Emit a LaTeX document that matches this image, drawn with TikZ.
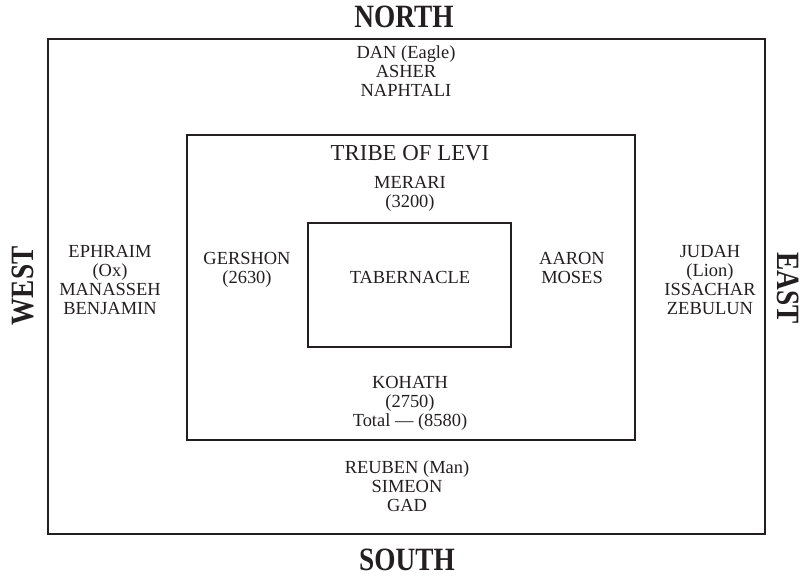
\documentclass[tikz,border=0pt]{standalone}
\usepackage{fontspec}
\setmainfont{Liberation Serif}
\newfontfamily\dirfont[FakeStretch=0.84]{Liberation Serif}
\usepackage{xcolor}
\usepackage{tikz}
\usetikzlibrary{positioning}
\definecolor{inkdark}{HTML}{231F20}

\begin{document}
\begin{tikzpicture}[
    x=0.02cm, y=-0.02cm,
    wall/.style={draw=inkdark, line width=1.4pt},
    tribe/.style={align=center, inner sep=0pt, text=inkdark, font=\fontsize{10.5}{10.8}\selectfont},
    levi/.style={inner sep=0pt, text=inkdark, font=\fontsize{13}{15}\selectfont},
    compass/.style={inner sep=0pt, text=inkdark, font=\dirfont\bfseries\fontsize{18.5}{20}\selectfont},
]
\useasboundingbox (0,0) rectangle (804,577);

% Camp, Levites and tabernacle
\draw[wall] (48,39) rectangle (765,534);
\draw[wall] (187,135) rectangle (635,440);
\draw[wall] (308,223) rectangle (511,347);

% Compass points
\node[compass] (north) at (404,17) {NORTH};
\node[compass] (south) at (407,560) {SOUTH};
\node[compass, rotate=90] (west) at (23,286) {WEST};
\node[compass, rotate=-90] (east) at (788,288) {EAST};

% Twelve tribes
\node[tribe] (dan) at (406,71) {DAN (Eagle)\\ASHER\\NAPHTALI};
\node[tribe] (ephraim) at (110,280) {EPHRAIM\\(Ox)\\MANASSEH\\BENJAMIN};
\node[tribe] (judah) at (710,280) {JUDAH\\(Lion)\\ISSACHAR\\ZEBULUN};
\node[tribe] (reuben) at (407,486) {REUBEN (Man)\\SIMEON\\GAD};

% Tribe of Levi
\node[levi] (levi) at (410,153) {TRIBE OF LEVI};
\node[tribe] (merari) at (410,194) {MERARI\\(3200)};
\node[tribe] (gershon) at (247,270) {GERSHON\\(2630)};
\node[tribe] (aaron) at (572,268) {AARON\\MOSES};
\node[tribe] (kohath) at (410,403) {KOHATH\\(2750)\\Total --- (8580)};

\node[tribe] (tabernacle) at (410,277) {TABERNACLE};

\end{tikzpicture}
\end{document}
